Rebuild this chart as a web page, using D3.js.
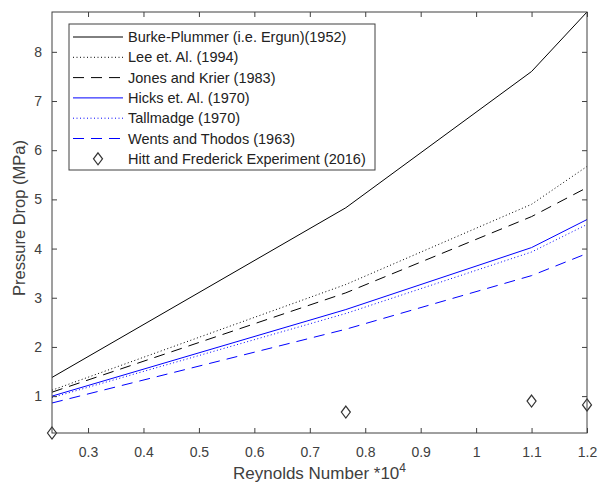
<!DOCTYPE html>
<html>
<head>
<meta charset="utf-8">
<script src="https://cdn.jsdelivr.net/npm/d3@7"></script>
<style>
  body { margin: 0; background: #fff; }
  svg { font-family: "Liberation Sans", Arial, sans-serif; }
</style>
</head>
<body>
<div id="chart"></div>
<script>
// Reynolds number (x 10^4) at each measurement point
var reynolds = [0.235, 0.765, 1.1, 1.2];

var burkePlummer = [1.38, 4.83, 7.6, 8.81];
var lee = [1.12, 3.27, 4.9, 5.67];
var jonesKrier = [1.08, 3.1, 4.65, 5.24];
var hicks = [1.0, 2.76, 4.02, 4.59];
var tallmadge = [0.97, 2.68, 3.93, 4.49];
var wentsThodos = [0.86, 2.36, 3.45, 3.9];
var experiment = [0.25, 0.675, 0.9, 0.82];

var xTicks = [0.3, 0.4, 0.5, 0.6, 0.7, 0.8, 0.9, 1, 1.1, 1.2];
var yTicks = [1, 2, 3, 4, 5, 6, 7, 8];

var series = [
  { name: "Burke-Plummer (i.e. Ergun)(1952)", values: burkePlummer, color: "#000", dash: null },
  { name: "Lee et. Al. (1994)", values: lee, color: "#000", dash: "1,2.5" },
  { name: "Jones and Krier (1983)", values: jonesKrier, color: "#000", dash: "11,7" },
  { name: "Hicks et. Al. (1970)", values: hicks, color: "#0000ff", dash: null },
  { name: "Tallmadge (1970)", values: tallmadge, color: "#0000ff", dash: "1,2.5" },
  { name: "Wents and Thodos (1963)", values: wentsThodos, color: "#0000ff", dash: "11,7" }
];

var width = 601, height = 493;
var plotLeft = 52, plotRight = 587, plotTop = 12, plotBottom = 433;
var axisColor = "#404040";

var svg = d3.select("#chart").append("svg")
    .attr("width", width)
    .attr("height", height);

var x = d3.scaleLinear().domain([0.235, 1.2]).range([plotLeft, plotRight]);
var y = d3.scaleLinear().domain([0.25, 8.81]).range([plotBottom, plotTop]);

var line = d3.line()
    .x((d, i) => x(reynolds[i]))
    .y(d => y(d));

svg.append("g")
  .selectAll("path")
  .data(series)
  .enter().append("path")
    .attr("d", d => line(d.values))
    .attr("fill", "none")
    .attr("stroke", d => d.color)
    .attr("stroke-width", 1)
    .attr("stroke-dasharray", d => d.dash);

var diamond = function(cx, cy, r) {
  return "M" + cx + "," + (cy - r) + "L" + (cx + r * 0.75) + "," + cy +
         "L" + cx + "," + (cy + r) + "L" + (cx - r * 0.75) + "," + cy + "Z";
};

svg.append("g")
  .selectAll("path")
  .data(experiment)
  .enter().append("path")
    .attr("d", (d, i) => diamond(x(reynolds[i]), y(d), 6))
    .attr("fill", "none")
    .attr("stroke", "#333")
    .attr("stroke-width", 1.2);

// axes: box with inward ticks on all four sides
var styleAxis = function(g) {
  g.select(".domain").remove();
  g.selectAll("line").attr("stroke", axisColor);
  g.selectAll("text").attr("fill", "#404040").style("font-size", "14px");
};

svg.append("g")
    .attr("transform", "translate(0," + plotBottom + ")")
    .call(d3.axisBottom(x).tickValues(xTicks).tickSizeInner(-5).tickSizeOuter(0).tickPadding(14).tickFormat(d3.format("~g")))
    .call(styleAxis);

svg.append("g")
    .attr("transform", "translate(0," + plotTop + ")")
    .call(d3.axisTop(x).tickValues(xTicks).tickSizeInner(-5).tickSizeOuter(0).tickFormat(""))
    .call(styleAxis);

svg.append("g")
    .attr("transform", "translate(" + plotLeft + ",0)")
    .call(d3.axisLeft(y).tickValues(yTicks).tickSizeInner(-5).tickSizeOuter(0).tickPadding(10))
    .call(styleAxis);

svg.append("g")
    .attr("transform", "translate(" + plotRight + ",0)")
    .call(d3.axisRight(y).tickValues(yTicks).tickSizeInner(-5).tickSizeOuter(0).tickFormat(""))
    .call(styleAxis);

svg.append("rect")
    .attr("x", plotLeft).attr("y", plotTop)
    .attr("width", plotRight - plotLeft).attr("height", plotBottom - plotTop)
    .attr("fill", "none")
    .attr("stroke", axisColor)
    .attr("stroke-width", 1);

// axis labels
var xLabel = svg.append("text")
    .attr("x", (plotLeft + plotRight) / 2)
    .attr("y", 479)
    .attr("text-anchor", "middle")
    .attr("fill", "#404040")
    .style("font-size", "17px")
    .text("Reynolds Number *10");
xLabel.append("tspan")
    .attr("dy", -7)
    .style("font-size", "12px")
    .text("4");

svg.append("text")
    .attr("transform", "translate(25,218) rotate(-90)")
    .attr("text-anchor", "middle")
    .attr("fill", "#404040")
    .style("font-size", "16.5px")
    .text("Pressure Drop (MPa)");

// legend
var legend = svg.append("g");
legend.append("rect")
    .attr("x", 69).attr("y", 24)
    .attr("width", 306).attr("height", 146)
    .attr("fill", "#fff")
    .attr("stroke", axisColor)
    .attr("stroke-width", 1);

var rowY = d => 37 + d * 20.3;

var entries = legend.selectAll("g.entry")
  .data(series)
  .enter().append("g")
    .attr("class", "entry");

entries.append("line")
    .attr("x1", 73).attr("x2", 123)
    .attr("y1", (d, i) => rowY(i)).attr("y2", (d, i) => rowY(i))
    .attr("stroke", d => d.color)
    .attr("stroke-width", 1)
    .attr("stroke-dasharray", d => d.dash);

entries.append("text")
    .attr("x", 128)
    .attr("y", (d, i) => rowY(i))
    .attr("dy", "0.35em")
    .attr("fill", "#222")
    .style("font-size", "14.5px")
    .text(d => d.name);

legend.append("path")
    .attr("d", diamond(98, rowY(6), 6))
    .attr("fill", "none")
    .attr("stroke", "#333")
    .attr("stroke-width", 1.2);

legend.append("text")
    .attr("x", 128)
    .attr("y", rowY(6))
    .attr("dy", "0.35em")
    .attr("fill", "#222")
    .style("font-size", "14.5px")
    .text("Hitt and Frederick Experiment (2016)");
</script>
</body>
</html>
